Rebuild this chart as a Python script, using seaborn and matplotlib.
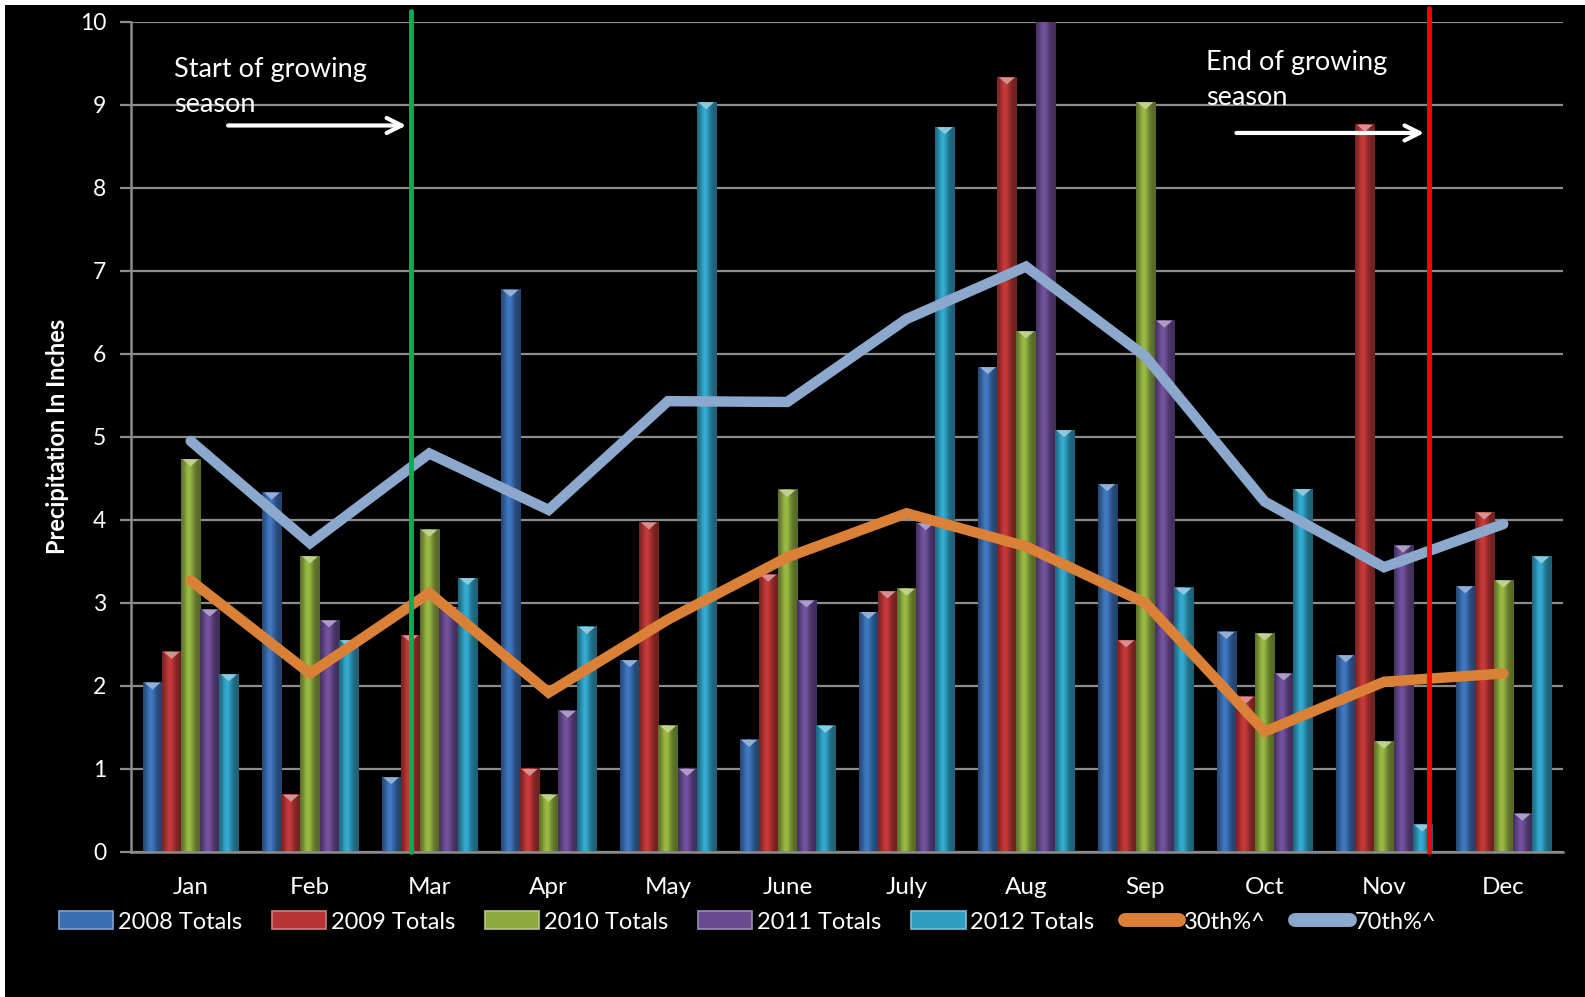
import numpy as np
import pandas as pd
import matplotlib
matplotlib.use("Agg")
import matplotlib.pyplot as plt
import matplotlib.colors as mcolors
from matplotlib.patches import Rectangle, Polygon, Patch
from matplotlib.lines import Line2D
import seaborn as sns

# ---------------- data ----------------
months = ["Jan", "Feb", "Mar", "Apr", "May", "June", "July", "Aug", "Sep", "Oct", "Nov", "Dec"]
series_names = ["2008 Totals", "2009 Totals", "2010 Totals", "2011 Totals", "2012 Totals"]
v2008 = [2.04, 4.33, 0.90, 6.77, 2.31, 1.35, 2.89, 5.84, 4.43, 2.65, 2.37, 3.20]
v2009 = [2.41, 0.69, 2.61, 1.00, 3.97, 3.34, 3.14, 9.33, 2.55, 1.87, 8.76, 4.09]
v2010 = [4.73, 3.56, 3.88, 0.69, 1.52, 4.36, 3.17, 6.27, 9.03, 2.63, 1.33, 3.27]
v2011 = [2.92, 2.79, 2.95, 1.70, 1.00, 3.03, 3.96, 10.3, 6.40, 2.15, 3.69, 0.46]
v2012 = [2.14, 2.55, 3.30, 2.71, 9.03, 1.52, 8.73, 5.08, 3.18, 4.37, 0.33, 3.56]
p30 = [3.27, 2.15, 3.12, 1.92, 2.80, 3.55, 4.08, 3.68, 3.00, 1.45, 2.05, 2.15]
p70 = [4.95, 3.72, 4.80, 4.12, 5.43, 5.42, 6.42, 7.05, 5.97, 4.22, 3.43, 3.95]
line_names = ["30th%^", "70th%^"]
yticks = list(range(0, 11))
start_label = "Start of growing\nseason"
end_label = "End of growing\nseason"
start_x, end_x = 1.85, 10.38

bar_colors = ["#3A6EB3", "#B73535", "#8DAA3E", "#6A4B92", "#2F9DC0"]
c30, c70 = "#DA8137", "#8DA8CD"

df = pd.DataFrame({
    "Month": months * 5,
    "Series": sum([[s] * 12 for s in series_names], []),
    "Value": v2008 + v2009 + v2010 + v2011 + v2012,
})

# ---------------- style ----------------
sns.set_theme(style="dark", rc={
    "axes.facecolor": "black",
    "figure.facecolor": "black",
    "axes.edgecolor": "#8C8C8C",
    "grid.color": "#8C8C8C",
    "text.color": "white",
    "xtick.color": "white",
    "ytick.color": "white",
})
plt.rcParams["font.family"] = ["Lato", "DejaVu Sans"]

W, H = 1585, 997
fig = plt.figure(figsize=(W / 100, H / 100), dpi=100)
fig.patches.append(Rectangle((0, 1 - 5 / H), 1, 5 / H, transform=fig.transFigure,
                             facecolor="white", edgecolor="none", zorder=0))
fig.patches.append(Rectangle((0, 0), 5 / W, 1, transform=fig.transFigure,
                             facecolor="white", edgecolor="none", zorder=0))

left, right, bottom, top = 131 / W, 1563 / W, 1 - 852 / H, 1 - 21.7 / H
ax = fig.add_axes([left, bottom, right - left, top - bottom])
ax.set_facecolor("black")
YMAX = 10

sns.barplot(data=df, x="Month", y="Value", hue="Series", order=months,
            hue_order=series_names, palette=bar_colors, saturation=1,
            width=0.8, dodge=True, legend=False, ax=ax, zorder=2,
            edgecolor="none", linewidth=0)

# cylinder-like shading on each bar + light top triangle
bar_patches = [p for p in ax.patches if isinstance(p, Rectangle)]
t = np.linspace(0, 1, 80)
prof = 0.62 + 0.48 * np.exp(-((t - 0.40) / 0.26) ** 2)
for p in bar_patches:
    x, y, w, h = p.get_x(), p.get_y(), p.get_width(), p.get_height()
    if h <= 0:
        continue
    base = np.array(mcolors.to_rgb(p.get_facecolor()))
    top_v = min(y + h, YMAX)
    grad = np.clip(base[None, :] * prof[:, None], 0, 1)[None, :, :]
    ax.imshow(grad, extent=[x, x + w, y, top_v], aspect="auto",
              interpolation="bicubic", zorder=2.1)
    if y + h <= YMAX:
        light = base + (1 - base) * 0.45
        d = 0.085
        tri = Polygon([[x + w * 0.08, y + h], [x + w * 0.92, y + h], [x + w / 2, y + h - d]],
                      closed=True, facecolor=light, edgecolor="none", zorder=2.2)
        ax.add_patch(tri)

xs = np.arange(len(months))
sns.lineplot(x=xs, y=p30, ax=ax, color=c30, linewidth=7.5, legend=False,
             sort=False, zorder=4)
sns.lineplot(x=xs, y=p70, ax=ax, color=c70, linewidth=7.5, legend=False,
             sort=False, zorder=4)
for ln in ax.lines:
    ln.set_solid_capstyle("round")
    ln.set_solid_joinstyle("miter")

# growing season markers
ax.axvline(start_x, ymin=0, ymax=1.013, color="#00B050", lw=3.5, zorder=5, clip_on=False)
ax.axvline(end_x, ymin=0, ymax=1.016, color="#FF0000", lw=3.5, zorder=5, clip_on=False)

ax.annotate("", xy=(start_x - 0.02, 8.75), xytext=(0.29, 8.75),
            arrowprops=dict(arrowstyle="->,head_length=0.9,head_width=0.45",
                            color="white", lw=3), zorder=6)
ax.annotate("", xy=(end_x - 0.02, 8.66), xytext=(8.74, 8.66),
            arrowprops=dict(arrowstyle="->,head_length=0.9,head_width=0.45",
                            color="white", lw=3), zorder=6)
ax.text(-0.14, 9.58, start_label, ha="left", va="top", fontsize=19.5,
        color="white", linespacing=1.5, zorder=6)
ax.text(8.51, 9.66, end_label, ha="left", va="top", fontsize=19.5,
        color="white", linespacing=1.5, zorder=6)

# axes formatting
ax.set_xlim(-0.5, len(months) - 0.5)
ax.set_ylim(0, YMAX)
ax.set_yticks(yticks)
ax.set_yticklabels([str(v) for v in yticks], fontsize=16.5, color="white")
ax.yaxis.grid(True, color="#8C8C8C", lw=1.6, zorder=0)
ax.xaxis.grid(False)
ax.set_axisbelow(True)
ax.set_xticks(xs)
ax.set_xticklabels(months, fontsize=17.5, color="white")
ax.set_xticks(np.arange(-0.5, len(months)), minor=True)
ax.tick_params(axis="x", which="major", length=0, pad=18)
ax.tick_params(axis="x", which="minor", length=8, width=1.6, color="#8C8C8C")
ax.tick_params(axis="y", which="major", length=8, width=1.6, color="#8C8C8C",
               pad=10, left=True)
for s in ["top", "right"]:
    ax.spines[s].set_visible(False)
for s in ["left", "bottom"]:
    ax.spines[s].set_color("#8C8C8C")
    ax.spines[s].set_linewidth(1.8)
    ax.spines[s].set_zorder(3)
ax.set_xlabel("")
ax.set_ylabel("Precipitation In Inches", fontsize=17, fontweight="bold",
              color="white", labelpad=8)

# legend
handles = []
for c in bar_colors:
    base = np.array(mcolors.to_rgb(c))
    handles.append(Patch(facecolor=c, edgecolor=base + (1 - base) * 0.35, linewidth=1.2))
handles.append(Line2D([0], [0], color=c30, lw=10, solid_capstyle="round"))
handles.append(Line2D([0], [0], color=c70, lw=10, solid_capstyle="round"))
leg = fig.legend(handles, series_names + line_names, loc="center",
                 bbox_to_anchor=(0.4715, 1 - 922 / H), ncol=7, frameon=False,
                 fontsize=17, labelcolor="white", handlelength=2.3,
                 handleheight=0.8, handletextpad=0.2, columnspacing=1.27,
                 borderaxespad=0)

fig.savefig("out.png", dpi=100, facecolor=fig.get_facecolor())
